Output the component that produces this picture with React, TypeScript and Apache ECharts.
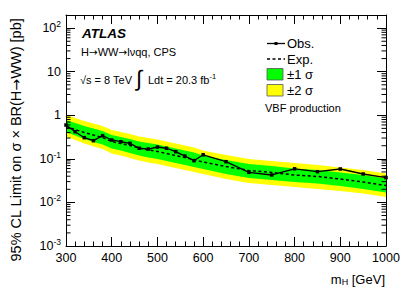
import React, { useEffect, useRef } from 'react';
import * as echarts from 'echarts';

const masses = [300, 320, 340, 360, 380, 400, 420, 440, 460, 480, 500, 520, 540, 560, 580, 600, 650, 700, 750, 800, 850, 900, 950, 1000];
const observed = [0.597, 0.42, 0.306, 0.261, 0.34, 0.271, 0.247, 0.227, 0.175, 0.168, 0.187, 0.175, 0.146, 0.116, 0.0907, 0.124, 0.086, 0.049, 0.0426, 0.059, 0.0507, 0.0585, 0.0449, 0.0372];
const expected = [0.552, 0.471, 0.402, 0.352, 0.309, 0.25, 0.225, 0.202, 0.177, 0.16, 0.147, 0.133, 0.119, 0.107, 0.0966, 0.0845, 0.0667, 0.054, 0.0486, 0.0426, 0.0394, 0.0344, 0.0294, 0.0244];
const plus1 = [0.778, 0.664, 0.568, 0.497, 0.436, 0.352, 0.317, 0.285, 0.25, 0.231, 0.213, 0.192, 0.173, 0.155, 0.14, 0.119, 0.094, 0.0762, 0.0686, 0.06, 0.0555, 0.0486, 0.0426, 0.0354];
const minus1 = [0.413, 0.343, 0.285, 0.243, 0.213, 0.173, 0.155, 0.136, 0.119, 0.107, 0.0991, 0.0891, 0.0803, 0.0723, 0.065, 0.0585, 0.0449, 0.0363, 0.0327, 0.0294, 0.0272, 0.0238, 0.0203, 0.0169];
const plus2 = [1.041, 0.865, 0.738, 0.647, 0.568, 0.459, 0.413, 0.372, 0.326, 0.301, 0.278, 0.25, 0.225, 0.202, 0.182, 0.155, 0.122, 0.0991, 0.0891, 0.0803, 0.0723, 0.0632, 0.0555, 0.0461];
const minus2 = [0.326, 0.27, 0.225, 0.192, 0.168, 0.133, 0.119, 0.105, 0.0916, 0.0824, 0.0762, 0.0686, 0.0617, 0.0555, 0.0499, 0.0449, 0.0344, 0.0279, 0.0251, 0.0226, 0.0203, 0.0183, 0.016, 0.0133];

const xMin = 300;
const xMax = 1000;
const xStep = 100;
const yMin = 0.001;
const yMax = 200;
const decades = [-3, -2, -1, 0, 1, 2];
const minorMultipliers = [2, 3, 4, 5, 6, 7, 8, 9];

const FONT = '"Liberation Sans", Arial, Helvetica, sans-serif';
const ARROW_FONT = '"DejaVu Sans", "Liberation Sans", sans-serif';

const yMinorTicks: number[] = [];
decades.forEach((d) => {
  minorMultipliers.forEach((m) => {
    const v = m * Math.pow(10, d);
    if (v < yMax) yMinorTicks.push(v);
  });
});

function pairs(vals: number[]) {
  return masses.map((m, i) => [m, vals[i]]);
}

function yLabel(v: number) {
  const e = Math.round(Math.log10(v));
  if (Math.abs(v - Math.pow(10, e)) / v > 1e-6) return '';
  if (e === 0) return '{b|1}';
  if (e === 1) return '{b|10}';
  return '{b|10}{s|' + e + '}';
}

function bandSeries(name: string, lo: number[], hi: number[], color: string, z: number) {
  return {
    name, type: 'custom', silent: true, z,
    data: masses.map((m, i) => [m, lo[i], hi[i]]),
    encode: { x: 0, y: [1, 2] },
    renderItem: (params: any, api: any) => {
      if (params.dataIndex !== 0) return null;
      const upper = masses.map((m, i) => api.coord([m, hi[i]]));
      const lower = masses.map((m, i) => api.coord([m, lo[i]])).reverse();
      return {
        type: 'polygon',
        shape: { points: upper.concat(lower) },
        style: { fill: color, stroke: null },
      };
    },
  };
}

export default function App() {
  const ref = useRef<HTMLDivElement>(null);
  useEffect(() => {
    if (!ref.current) return;
    const chart = echarts.init(ref.current, null, { renderer: 'svg' });
    const axisLineStyle = { color: '#000', width: 1 };
    const option: any = {
      animation: false,
      backgroundColor: '#fff',
      grid: { left: 66, right: 21, top: 15, bottom: 49, containLabel: false },
      xAxis: [
        {
          type: 'value', min: xMin, max: xMax, interval: xStep, z: 10,
          axisLine: { show: true, onZero: false, lineStyle: axisLineStyle },
          axisTick: { show: true, inside: true, length: 9, lineStyle: { color: '#000' } },
          minorTick: { show: true, splitNumber: 5, length: 4.5, lineStyle: { color: '#000' } },
          splitLine: { show: false },
          axisLabel: { fontFamily: FONT, fontSize: 12.5, color: '#000', margin: 5, formatter: (v: number) => String(v) },
        },
        {
          type: 'value', position: 'top', min: xMin, max: xMax, interval: xStep, z: 10,
          axisLine: { show: true, onZero: false, lineStyle: axisLineStyle },
          axisTick: { show: true, inside: true, length: 9, lineStyle: { color: '#000' } },
          minorTick: { show: true, splitNumber: 5, length: 4.5, lineStyle: { color: '#000' } },
          splitLine: { show: false },
          axisLabel: { show: false },
        },
      ],
      yAxis: [
        {
          type: 'log', logBase: 10, min: yMin, max: yMax, z: 10,
          axisLine: { show: true, onZero: false, lineStyle: axisLineStyle },
          axisTick: { show: true, inside: true, length: 9, lineStyle: { color: '#000' } },
          splitLine: { show: false },
          axisLabel: {
            formatter: yLabel, margin: 5, color: '#000',
            rich: {
              b: { fontFamily: FONT, fontSize: 12.5, color: '#000' },
              s: { fontFamily: FONT, fontSize: 8.5, color: '#000', verticalAlign: 'top', padding: [0, 0, 8, 0] },
            },
          },
        },
        {
          type: 'log', logBase: 10, min: yMin, max: yMax, position: 'right', z: 10,
          axisLine: { show: true, onZero: false, lineStyle: axisLineStyle },
          axisTick: { show: true, inside: true, length: 9, lineStyle: { color: '#000' } },
          splitLine: { show: false },
          axisLabel: { show: false },
        },
      ],
      series: [
        bandSeries('±2 σ', minus2, plus2, '#ffff00', 1),
        bandSeries('±1 σ', minus1, plus1, '#00ff00', 2),
        {
          name: 'Exp.', type: 'line', data: pairs(expected), symbol: 'none', z: 3,
          lineStyle: { color: '#000', width: 1.5, type: [3, 2.5] },
        },
        {
          name: 'Obs.', type: 'line', data: pairs(observed), z: 4,
          symbol: 'rect', symbolSize: 3.5,
          itemStyle: { color: '#000' },
          lineStyle: { color: '#000', width: 1.3 },
        },
        {
          name: 'minorY', type: 'custom', silent: true, z: 11,
          data: yMinorTicks.map((v) => [xMin, v]),
          renderItem: (params: any, api: any) => {
            const cs = params.coordSys;
            const y = api.coord([xMin, api.value(1)])[1];
            return {
              type: 'group',
              children: [
                { type: 'line', shape: { x1: cs.x, y1: y, x2: cs.x + 4.5, y2: y }, style: { stroke: '#000', lineWidth: 1 } },
                { type: 'line', shape: { x1: cs.x + cs.width - 4.5, y1: y, x2: cs.x + cs.width, y2: y }, style: { stroke: '#000', lineWidth: 1 } },
              ],
            };
          },
        },
      ],
      graphic: [
        { type: 'text', x: 82, y: 33, style: { text: 'ATLAS', font: `italic bold 13.5px ${FONT}`, fill: '#000', verticalAlign: 'middle' } },
        {
          type: 'text', x: 81, y: 52,
          style: {
            text: '{a|H}{r|→}{a|WW}{r|→}{a|lνqq, CPS}', verticalAlign: 'middle', fill: '#000',
            rich: {
              a: { fontFamily: FONT, fontSize: 11, fill: '#000' },
              r: { fontFamily: ARROW_FONT, fontSize: 10.5, fill: '#000' },
            },
          },
        },
        { type: 'text', x: 80, y: 80, style: { text: '√s = 8 TeV', font: `11px ${FONT}`, fill: '#000', verticalAlign: 'middle' } },
        { type: 'text', x: 136, y: 78, style: { text: '∫', font: `22px ${FONT}`, fill: '#000', verticalAlign: 'middle' } },
        {
          type: 'text', x: 148, y: 80,
          style: {
            text: '{a|Ldt = 20.3 fb}{s|-1}', verticalAlign: 'middle', fill: '#000',
            rich: {
              a: { fontFamily: FONT, fontSize: 11, fill: '#000' },
              s: { fontFamily: FONT, fontSize: 7.5, fill: '#000', verticalAlign: 'top', padding: [0, 0, 7, 0] },
            },
          },
        },
        { type: 'line', shape: { x1: 267, y1: 43.5, x2: 285, y2: 43.5 }, style: { stroke: '#000', lineWidth: 1.3 } },
        { type: 'rect', shape: { x: 274.5, y: 42, width: 3, height: 3 }, style: { fill: '#000' } },
        { type: 'text', x: 287, y: 43.5, style: { text: 'Obs.', font: `13px ${FONT}`, fill: '#000', verticalAlign: 'middle' } },
        { type: 'line', shape: { x1: 267, y1: 59, x2: 285, y2: 59 }, style: { stroke: '#000', lineWidth: 1.5, lineDash: [3, 2.5] } },
        { type: 'text', x: 287, y: 59, style: { text: 'Exp.', font: `13px ${FONT}`, fill: '#000', verticalAlign: 'middle' } },
        { type: 'rect', shape: { x: 267, y: 68.5, width: 16, height: 11.5 }, style: { fill: '#00ff00', stroke: '#555', lineWidth: 0.8 } },
        { type: 'text', x: 287, y: 74.5, style: { text: '±1 σ', font: `13px ${FONT}`, fill: '#000', verticalAlign: 'middle' } },
        { type: 'rect', shape: { x: 267, y: 84.5, width: 16, height: 11.5 }, style: { fill: '#ffff00', stroke: '#555', lineWidth: 0.8 } },
        { type: 'text', x: 287, y: 90.5, style: { text: '±2 σ', font: `13px ${FONT}`, fill: '#000', verticalAlign: 'middle' } },
        { type: 'text', x: 265, y: 108, style: { text: 'VBF production', font: `11px ${FONT}`, fill: '#000', verticalAlign: 'middle' } },
        {
          type: 'text', x: 16, y: 140, rotation: Math.PI / 2,
          style: {
            text: '{a|95% CL Limit on σ × BR(H}{r|→}{a|WW) [pb]}', align: 'center', verticalAlign: 'middle', fill: '#000',
            rich: {
              a: { fontFamily: FONT, fontSize: 14.5, fill: '#000' },
              r: { fontFamily: ARROW_FONT, fontSize: 14, fill: '#000' },
            },
          },
        },
        {
          type: 'text', x: 385, y: 279,
          style: {
            text: '{a|m}{s|H}{a| [GeV]}', align: 'right', verticalAlign: 'middle', fill: '#000',
            rich: {
              a: { fontFamily: FONT, fontSize: 13, fill: '#000' },
              s: { fontFamily: FONT, fontSize: 9, fill: '#000', verticalAlign: 'bottom', padding: [6, 0, 0, 0] },
            },
          },
        },
      ],
    };
    chart.setOption(option);
    return () => chart.dispose();
  }, []);
  return <div ref={ref} style={{ position: 'fixed', left: 0, top: 0, width: 407, height: 295 }} />;
}
